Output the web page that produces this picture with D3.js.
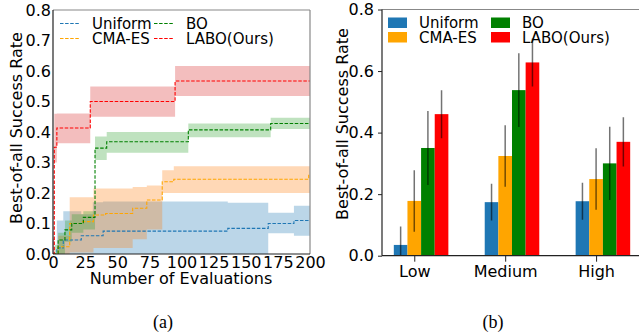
<!DOCTYPE html>
<html>
<head>
<meta charset="utf-8">
<script src="https://cdn.jsdelivr.net/npm/d3@7"></script>
<style>
  body { margin: 0; background: #fff; }
  text { font-family: "DejaVu Sans", sans-serif; fill: #000; }
</style>
</head>
<body>
<svg id="chart" width="639" height="333"></svg>
<script>
// ---- left panel (a): best-of-all success rate vs. number of evaluations
const methods = ["Uniform", "CMA-ES", "BO", "LABO(Ours)"];

const uniX    = [0, 3, 8, 22, 31, 39, 136, 167.5, 187.5, 200];
const uniMean = [0, 0.02, 0.046, 0.06, 0.06, 0.075, 0.084, 0.10, 0.11, 0.11];
const uniLo   = [0, 0, 0, 0, 0, 0, 0, 0.068, 0.06, 0.06];
const uniHi   = [0, 0.11, 0.14, 0.13, 0.17, 0.172, 0.168, 0.135, 0.158, 0.158];

const cmaX    = [0, 4, 13, 23, 31.5, 41, 62, 73, 85, 94, 199, 200];
const cmaMean = [0, 0.024, 0.10, 0.106, 0.128, 0.133, 0.15, 0.177, 0.237, 0.245, 0.26, 0.26];
const cmaLo   = [0, 0, 0.005, 0.005, 0.02, 0.02, 0.048, 0.08, 0.2, 0.2, 0.2, 0.2];
const cmaHi   = [0, 0.06, 0.186, 0.186, 0.215, 0.215, 0.22, 0.225, 0.275, 0.288, 0.288, 0.288];

const boX     = [0, 1.5, 4, 9.3, 14.6, 23.6, 32.7, 41.8, 105.3, 169.4, 200];
const boMean  = [0, 0, 0.046, 0.079, 0.10, 0.12, 0.347, 0.368, 0.407, 0.428, 0.428];
const boLo    = [0, 0, 0, 0.04, 0.07, 0.08, 0.308, 0.332, 0.383, 0.41, 0.41];
const boHi    = [0, 0.03, 0.07, 0.11, 0.13, 0.14, 0.385, 0.40, 0.428, 0.447, 0.447];

const laboX    = [0, 1, 3, 29, 95, 200];
const laboMean = [0, 0.35, 0.413, 0.50, 0.567, 0.567];
const laboLo   = [0, 0.30, 0.363, 0.45, 0.518, 0.518];
const laboHi   = [0.05, 0.46, 0.461, 0.549, 0.616, 0.616];

const xTicksA = [0, 25, 50, 75, 100, 125, 150, 175, 200];
const yTicksA = [0, 0.1, 0.2, 0.3, 0.4, 0.5, 0.6, 0.7, 0.8];

// ---- right panel (b): success rate per difficulty level
const levels = ["Low", "Medium", "High"];
const uniformBar = [0.035, 0.174, 0.177];
const cmaBar     = [0.178, 0.324, 0.249];
const boBar      = [0.350, 0.538, 0.300];
const laboBar    = [0.460, 0.628, 0.370];
const uniformErr = [0.06, 0.06, 0.06];
const cmaErr     = [0.10, 0.10, 0.10];
const boErr      = [0.12, 0.12, 0.119];
const laboErr    = [0.078, 0.078, 0.08];
const yTicksB = [0, 0.2, 0.4, 0.6, 0.8];

const lineColors = ["#1f77b4", "orange", "green", "red"];
const bandColors = ["#1f77b4", "#ff7f0e", "#2ca02c", "#d62728"];
const barColors  = ["#1f77b4", "orange", "green", "red"];

const svg = d3.select("#chart");
svg.append("rect").attr("width", 639).attr("height", 333).attr("fill", "#fff");

// ================= panel (a) =================
const xA = d3.scaleLinear().domain([0, 200]).range([53, 310]);
const yA = d3.scaleLinear().domain([0, 0.8]).range([254, 10]);

svg.append("clipPath").attr("id", "clipA")
   .append("rect").attr("x", 53).attr("y", 10).attr("width", 257).attr("height", 244);

const series = [
  {x: uniX, m: uniMean, lo: uniLo, hi: uniHi},
  {x: cmaX, m: cmaMean, lo: cmaLo, hi: cmaHi},
  {x: boX, m: boMean, lo: boLo, hi: boHi},
  {x: laboX, m: laboMean, lo: laboLo, hi: laboHi}
];

const plotA = svg.append("g").attr("clip-path", "url(#clipA)");

const area = d3.area()
  .curve(d3.curveStepAfter)
  .x(d => xA(d.x))
  .y0(d => yA(d.lo))
  .y1(d => yA(d.hi));

const line = d3.line()
  .curve(d3.curveStepAfter)
  .x(d => xA(d.x))
  .y(d => yA(d.m));

series.forEach((s, i) => {
  const pts = s.x.map((x, j) => ({x: x, m: s.m[j], lo: s.lo[j], hi: s.hi[j]}));
  plotA.append("path")
       .attr("d", area(pts))
       .attr("fill", bandColors[i])
       .attr("fill-opacity", 0.3);
});

series.forEach((s, i) => {
  const pts = s.x.map((x, j) => ({x: x, m: s.m[j]}));
  plotA.append("path")
       .attr("d", line(pts))
       .attr("fill", "none")
       .attr("stroke", lineColors[i])
       .attr("stroke-width", 1.1)
       .attr("stroke-dasharray", "3.5,1.6");
});

// axes (a) -- no tick marks, labels only
const axA = svg.append("g");
axA.append("g")
   .attr("transform", "translate(0,254)")
   .call(d3.axisBottom(xA).tickValues(xTicksA).tickSize(0).tickPadding(3).tickFormat(d3.format("d")))
   .call(g => g.select(".domain").remove());
axA.append("g")
   .attr("transform", "translate(53,0)")
   .call(d3.axisLeft(yA).tickValues(yTicksA).tickSize(0).tickPadding(2).tickFormat(d3.format(".1f")))
   .call(g => g.select(".domain").remove());
axA.selectAll(".tick text").style("font-size", "16px").style("font-family", "DejaVu Sans");

// spines
axA.append("line").attr("x1", 310).attr("x2", 310).attr("y1", 10).attr("y2", 254).attr("stroke", "#888").attr("stroke-width", 1.2);
axA.append("line").attr("x1", 53).attr("x2", 310).attr("y1", 10).attr("y2", 10).attr("stroke", "#888").attr("stroke-width", 1.2);
axA.append("line").attr("x1", 53).attr("x2", 310).attr("y1", 254).attr("y2", 254).attr("stroke", "#222").attr("stroke-width", 1.2);
axA.append("line").attr("x1", 53).attr("x2", 53).attr("y1", 10).attr("y2", 254).attr("stroke", "#222").attr("stroke-width", 1.2);

svg.append("text")
   .attr("x", 181).attr("y", 284)
   .attr("text-anchor", "middle")
   .style("font-size", "16px")
   .text("Number of Evaluations");
svg.append("text")
   .attr("transform", "translate(22,128) rotate(-90)")
   .attr("text-anchor", "middle")
   .style("font-size", "16px")
   .text("Best-of-all Success Rate");

// legend (a)
const legA = [
  {x: 60, y: 23.5},
  {x: 60, y: 38.5},
  {x: 154, y: 23.5},
  {x: 154, y: 38.5}
];
legA.forEach((p, i) => {
  svg.append("line")
     .attr("x1", p.x).attr("x2", p.x + 20)
     .attr("y1", p.y).attr("y2", p.y)
     .attr("stroke", lineColors[i])
     .attr("stroke-width", 1.1)
     .attr("stroke-dasharray", "3.5,1.6");
  svg.append("text")
     .attr("x", p.x + 32).attr("y", p.y + 5.5)
     .style("font-size", "15px")
     .text(methods[i]);
});

// ================= panel (b) =================
const barW = 0.15;
const xB = d3.scaleLinear().domain([-0.355, 2.505]).range([382, 642]);
const yB = d3.scaleLinear().domain([0, 0.8]).range([255.7, 9.5]);

svg.append("clipPath").attr("id", "clipB")
   .append("rect").attr("x", 382).attr("y", 9.5).attr("width", 260).attr("height", 246.2);

const barSets = [
  {v: uniformBar, e: uniformErr},
  {v: cmaBar, e: cmaErr},
  {v: boBar, e: boErr},
  {v: laboBar, e: laboErr}
];

const plotB = svg.append("g").attr("clip-path", "url(#clipB)");
barSets.forEach((s, i) => {
  const off = (i - 1) * barW;
  const rows = levels.map((lv, j) => ({j: j, v: s.v[j], e: s.e[j]}));
  plotB.selectAll(null)
       .data(rows).enter()
       .append("rect")
       .attr("x", d => xB(d.j + off - barW / 2))
       .attr("width", d => xB(d.j + off + barW / 2) - xB(d.j + off - barW / 2))
       .attr("y", d => yB(d.v))
       .attr("height", d => yB(0) - yB(d.v))
       .attr("fill", barColors[i]);
});
barSets.forEach((s, i) => {
  const off = (i - 1) * barW;
  const rows = levels.map((lv, j) => ({j: j, v: s.v[j], e: s.e[j]}));
  plotB.selectAll(null)
       .data(rows).enter()
       .append("line")
       .attr("x1", d => xB(d.j + off)).attr("x2", d => xB(d.j + off))
       .attr("y1", d => yB(d.v - d.e)).attr("y2", d => yB(d.v + d.e))
       .attr("stroke", "#000")
       .attr("stroke-opacity", 0.55)
       .attr("stroke-width", 1.5);
});

const axB = svg.append("g");
axB.append("g")
   .attr("transform", "translate(0,255.7)")
   .call(d3.axisBottom(xB).tickValues([0, 1, 2]).tickSize(6).tickPadding(4).tickFormat(d => levels[d]))
   .call(g => g.select(".domain").remove());
axB.append("g")
   .attr("transform", "translate(382,0)")
   .call(d3.axisLeft(yB).tickValues(yTicksB).tickSize(4).tickPadding(4).tickFormat(d3.format(".1f")))
   .call(g => g.select(".domain").remove());
axB.selectAll(".tick text").style("font-size", "16px").style("font-family", "DejaVu Sans");
axB.selectAll(".tick line").attr("stroke", "#222");

axB.append("line").attr("x1", 382).attr("x2", 639).attr("y1", 9.5).attr("y2", 9.5).attr("stroke", "#888").attr("stroke-width", 1.2);
axB.append("line").attr("x1", 382).attr("x2", 639).attr("y1", 255.7).attr("y2", 255.7).attr("stroke", "#222").attr("stroke-width", 1.2);
axB.append("line").attr("x1", 382).attr("x2", 382).attr("y1", 9.5).attr("y2", 255.7).attr("stroke", "#222").attr("stroke-width", 1.2);

svg.append("text")
   .attr("transform", "translate(348,124) rotate(-90)")
   .attr("text-anchor", "middle")
   .style("font-size", "16px")
   .text("Best-of-all Success Rate");

// legend (b)
const legB = [
  {x: 388, y: 17.5},
  {x: 388, y: 32},
  {x: 491, y: 17.5},
  {x: 491, y: 32}
];
legB.forEach((p, i) => {
  svg.append("rect")
     .attr("x", p.x).attr("y", p.y)
     .attr("width", 19).attr("height", 10.5)
     .attr("fill", barColors[i]);
  svg.append("text")
     .attr("x", p.x + 31).attr("y", p.y + 10.5)
     .style("font-size", "15px")
     .text(methods[i]);
});

// captions
svg.append("text").attr("x", 163).attr("y", 328).attr("text-anchor", "middle")
   .style("font-family", "Liberation Serif, serif").style("font-size", "18px").text("(a)");
svg.append("text").attr("x", 493).attr("y", 328).attr("text-anchor", "middle")
   .style("font-family", "Liberation Serif, serif").style("font-size", "18px").text("(b)");
</script>
</body>
</html>
